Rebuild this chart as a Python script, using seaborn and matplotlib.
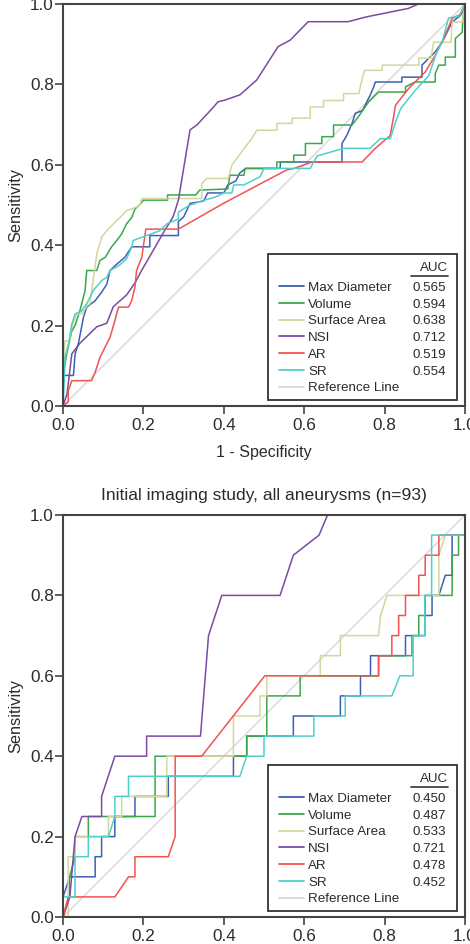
import matplotlib
matplotlib.use("Agg")
import matplotlib.pyplot as plt
from matplotlib.lines import Line2D
from matplotlib.patches import Rectangle
import seaborn as sns


sns.set_theme(style="white")
plt.rcParams["font.family"] = ["Liberation Sans", "DejaVu Sans"]

SERIES = ["Max Diameter", "Volume", "Surface Area", "NSI", "AR", "SR"]
COLORS = ["#3f60b2", "#3aa84a", "#d3d69e", "#7b4aa2", "#f25252", "#4dd0cc"]
REF_COLOR = "#d6d6d6"
TEXT_COLOR = "#2b2b2b"
DIAG = [0.0, 1.0]
TICKS = [0.0, 0.2, 0.4, 0.6, 0.8, 1.0]

# ---- first study (top panel) ----
TOP_AUC = ["0.565", "0.594", "0.638", "0.712", "0.519", "0.554"]

TOP_MAXD_X = [0, 0.0, 0.026, 0.03, 0.038, 0.051, 0.059, 0.08, 0.096, 0.109, 0.117, 0.134, 0.154,
              0.171, 0.216, 0.216, 0.287, 0.287, 0.30, 0.316, 0.35, 0.36, 0.40, 0.41, 0.43, 0.44,
              0.455, 0.54, 0.541, 0.694, 0.694, 0.706, 0.719, 0.727, 0.745, 0.764, 0.773, 0.777,
              0.843, 0.843, 0.893, 0.893, 0.926, 0.943, 0.968, 0.988, 1.0, 1.0]
TOP_MAXD_Y = [0, 0.076, 0.076, 0.129, 0.154, 0.221, 0.246, 0.262, 0.283, 0.303, 0.337, 0.353, 0.370,
              0.396, 0.396, 0.424, 0.424, 0.459, 0.47, 0.504, 0.51, 0.53, 0.53, 0.55, 0.56, 0.58,
              0.591, 0.591, 0.607, 0.607, 0.653, 0.673, 0.703, 0.728, 0.735, 0.773, 0.794, 0.806,
              0.806, 0.818, 0.818, 0.848, 0.881, 0.905, 0.955, 0.971, 0.99, 1.0]

TOP_VOL_X = [0, 0.0, 0.009, 0.022, 0.03, 0.042, 0.055, 0.059, 0.084, 0.092, 0.105, 0.121, 0.134,
             0.146, 0.158, 0.171, 0.179, 0.192, 0.20, 0.26, 0.26, 0.33, 0.34, 0.41, 0.415, 0.45,
             0.453, 0.532, 0.532, 0.574, 0.574, 0.603, 0.603, 0.644, 0.644, 0.673, 0.673, 0.719,
             0.735, 0.760, 0.785, 0.852, 0.852, 0.876, 0.926, 0.926, 0.935, 0.951, 0.951, 0.976,
             0.976, 0.993, 0.995, 1.0]
TOP_VOL_Y = [0, 0.072, 0.129, 0.187, 0.20, 0.237, 0.287, 0.337, 0.337, 0.362, 0.37, 0.396, 0.412,
             0.428, 0.453, 0.469, 0.49, 0.502, 0.512, 0.512, 0.525, 0.525, 0.537, 0.54, 0.574, 0.574,
             0.591, 0.591, 0.607, 0.607, 0.624, 0.624, 0.653, 0.653, 0.670, 0.670, 0.699, 0.699,
             0.72, 0.756, 0.781, 0.781, 0.794, 0.806, 0.806, 0.827, 0.848, 0.848, 0.868, 0.868,
             0.914, 0.930, 0.97, 1.0]

TOP_SA_X = [0, 0.0, 0.005, 0.017, 0.02, 0.034, 0.047, 0.06, 0.067, 0.075, 0.084, 0.096, 0.109,
            0.125, 0.142, 0.158, 0.183, 0.192, 0.196, 0.345, 0.345, 0.357, 0.411, 0.42, 0.444,
            0.469, 0.482, 0.532, 0.532, 0.570, 0.570, 0.615, 0.615, 0.648, 0.648, 0.698, 0.698,
            0.736, 0.745, 0.75, 0.794, 0.794, 0.885, 0.885, 0.915, 0.922, 0.965, 0.968, 0.993, 1.0]
TOP_SA_Y = [0, 0.09, 0.162, 0.162, 0.19, 0.229, 0.229, 0.25, 0.254, 0.312, 0.378, 0.42, 0.436,
            0.453, 0.469, 0.486, 0.495, 0.502, 0.516, 0.516, 0.553, 0.566, 0.566, 0.599, 0.632,
            0.665, 0.686, 0.686, 0.703, 0.703, 0.716, 0.716, 0.744, 0.744, 0.760, 0.760, 0.777,
            0.777, 0.818, 0.835, 0.835, 0.848, 0.848, 0.865, 0.865, 0.905, 0.905, 0.955, 0.955, 1.0]

TOP_NSI_X = [0, 0.01, 0.022, 0.042, 0.084, 0.109, 0.125, 0.158, 0.179, 0.196, 0.225, 0.249, 0.274,
             0.287, 0.316, 0.333, 0.361, 0.386, 0.403, 0.440, 0.482, 0.535, 0.565, 0.610, 0.709,
             0.755, 0.859, 0.884, 1.0]
TOP_NSI_Y = [0, 0.03, 0.13, 0.156, 0.197, 0.206, 0.247, 0.276, 0.306, 0.338, 0.388, 0.43, 0.471,
             0.512, 0.687, 0.699, 0.729, 0.757, 0.761, 0.774, 0.811, 0.894, 0.910, 0.956, 0.956,
             0.968, 0.989, 1.0, 1.0]

TOP_AR_X = [0, 0.013, 0.013, 0.022, 0.071, 0.08, 0.092, 0.117, 0.129, 0.138, 0.163, 0.171, 0.179,
            0.183, 0.196, 0.206, 0.287, 0.399, 0.556, 0.575, 0.62, 0.744, 0.777, 0.814, 0.823,
            0.827, 0.860, 0.901, 0.926, 0.947, 0.968, 0.99, 1.0]
TOP_AR_Y = [0, 0.01, 0.038, 0.063, 0.063, 0.084, 0.121, 0.171, 0.212, 0.246, 0.246, 0.262, 0.296,
            0.337, 0.370, 0.440, 0.440, 0.504, 0.587, 0.591, 0.607, 0.607, 0.641, 0.673, 0.723,
            0.748, 0.790, 0.831, 0.872, 0.914, 0.964, 0.975, 1.0]

TOP_SR_X = [0, 0.003, 0.005, 0.015, 0.022, 0.03, 0.045, 0.059, 0.075, 0.096, 0.109, 0.117, 0.14,
            0.158, 0.171, 0.175, 0.241, 0.258, 0.287, 0.287, 0.312, 0.345, 0.38, 0.40, 0.42, 0.425,
            0.45, 0.49, 0.50, 0.615, 0.632, 0.698, 0.764, 0.789, 0.814, 0.827, 0.840, 0.876, 0.910,
            0.930, 0.943, 0.959, 0.985, 1.0]
TOP_SR_Y = [0, 0.06, 0.121, 0.16, 0.204, 0.229, 0.235, 0.254, 0.287, 0.312, 0.320, 0.337, 0.35,
            0.366, 0.396, 0.412, 0.436, 0.453, 0.465, 0.482, 0.498, 0.51, 0.52, 0.53, 0.53, 0.55,
            0.55, 0.57, 0.591, 0.591, 0.622, 0.641, 0.641, 0.665, 0.665, 0.706, 0.740, 0.785, 0.822,
            0.881, 0.905, 0.965, 0.97, 1.0]

# ---- initial imaging study (bottom panel) ----
BOTTOM_TITLE = "Initial imaging study, all aneurysms (n=93)"
BOT_AUC = ["0.450", "0.487", "0.533", "0.721", "0.478", "0.452"]

BOT_MAXD_X = [0, 0.0, 0.017, 0.08, 0.08, 0.096, 0.096, 0.129, 0.129, 0.179, 0.179, 0.262, 0.262,
              0.424, 0.424, 0.457, 0.457, 0.573, 0.573, 0.69, 0.69, 0.74, 0.74, 0.765, 0.765, 0.852,
              0.852, 0.90, 0.90, 0.918, 0.918, 0.935, 0.951, 0.968, 0.968, 1.0, 1.0]
BOT_MAXD_Y = [0, 0.05, 0.10, 0.10, 0.15, 0.15, 0.20, 0.20, 0.25, 0.25, 0.30, 0.30, 0.35,
              0.35, 0.40, 0.40, 0.45, 0.45, 0.50, 0.50, 0.55, 0.55, 0.60, 0.60, 0.65, 0.65,
              0.70, 0.70, 0.75, 0.75, 0.80, 0.80, 0.85, 0.85, 0.95, 0.95, 1.0]

BOT_VOL_X = [0, 0.016, 0.016, 0.03, 0.03, 0.063, 0.063, 0.229, 0.229, 0.457, 0.457, 0.507, 0.507,
             0.59, 0.59, 0.785, 0.785, 0.868, 0.868, 0.885, 0.885, 0.901, 0.901, 0.968, 0.968,
             0.984, 0.984, 1.0, 1.0]
BOT_VOL_Y = [0, 0.05, 0.10, 0.15, 0.20, 0.20, 0.25, 0.25, 0.40, 0.40, 0.45, 0.45, 0.55,
             0.55, 0.60, 0.60, 0.65, 0.65, 0.70, 0.70, 0.75, 0.75, 0.80, 0.80, 0.90,
             0.90, 0.95, 0.95, 1.0]

BOT_SA_X = [0, 0.013, 0.013, 0.03, 0.03, 0.113, 0.113, 0.146, 0.146, 0.258, 0.258, 0.424, 0.424,
            0.49, 0.49, 0.507, 0.507, 0.64, 0.64, 0.69, 0.69, 0.785, 0.79, 0.806, 0.935, 0.935,
            0.951, 1.0, 1.0]
BOT_SA_Y = [0, 0.0, 0.15, 0.15, 0.20, 0.20, 0.25, 0.25, 0.30, 0.30, 0.40, 0.40, 0.50,
            0.50, 0.55, 0.55, 0.60, 0.60, 0.65, 0.65, 0.70, 0.70, 0.75, 0.80, 0.80, 0.90,
            0.95, 0.95, 1.0]

BOT_NSI_X = [0, 0.017, 0.03, 0.047, 0.096, 0.096, 0.129, 0.208, 0.208, 0.342, 0.362, 0.395, 0.54,
             0.573, 0.637, 0.658, 1.0]
BOT_NSI_Y = [0, 0.05, 0.20, 0.25, 0.25, 0.30, 0.40, 0.40, 0.45, 0.45, 0.70, 0.80, 0.80,
             0.90, 0.95, 1.0, 1.0]

BOT_AR_X = [0, 0.013, 0.129, 0.163, 0.179, 0.179, 0.262, 0.279, 0.279, 0.345, 0.502, 0.785, 0.785,
            0.818, 0.818, 0.835, 0.835, 0.852, 0.852, 0.885, 0.885, 0.901, 0.901, 0.935, 0.935,
            1.0, 1.0]
BOT_AR_Y = [0, 0.05, 0.05, 0.10, 0.10, 0.15, 0.15, 0.20, 0.40, 0.40, 0.60, 0.60, 0.65,
            0.65, 0.70, 0.70, 0.75, 0.75, 0.80, 0.80, 0.85, 0.85, 0.90, 0.90, 0.95,
            0.95, 1.0]

BOT_SR_X = [0, 0.0, 0.03, 0.03, 0.063, 0.063, 0.113, 0.129, 0.129, 0.163, 0.163, 0.44, 0.457, 0.50,
            0.50, 0.624, 0.624, 0.702, 0.702, 0.818, 0.838, 0.871, 0.871, 0.90, 0.90, 0.917,
            0.917, 1.0, 1.0]
BOT_SR_Y = [0, 0.05, 0.05, 0.15, 0.15, 0.20, 0.20, 0.25, 0.30, 0.30, 0.35, 0.35, 0.40, 0.40,
            0.45, 0.45, 0.50, 0.50, 0.55, 0.55, 0.60, 0.60, 0.70, 0.70, 0.80, 0.80,
            0.95, 0.95, 1.0]

TOP_CURVES = [(TOP_MAXD_X, TOP_MAXD_Y), (TOP_VOL_X, TOP_VOL_Y), (TOP_SA_X, TOP_SA_Y),
              (TOP_NSI_X, TOP_NSI_Y), (TOP_AR_X, TOP_AR_Y), (TOP_SR_X, TOP_SR_Y)]
BOT_CURVES = [(BOT_MAXD_X, BOT_MAXD_Y), (BOT_VOL_X, BOT_VOL_Y), (BOT_SA_X, BOT_SA_Y),
              (BOT_NSI_X, BOT_NSI_Y), (BOT_AR_X, BOT_AR_Y), (BOT_SR_X, BOT_SR_Y)]


def draw_panel(ax, curves):
    sns.lineplot(x=DIAG, y=DIAG, color=REF_COLOR, lw=1.0, ax=ax)
    for color, (fpr, tpr) in zip(COLORS, curves):
        sns.lineplot(x=fpr, y=tpr, sort=False, estimator=None, color=color, lw=1.1, ax=ax)

    ax.set_xlim(0, 1)
    ax.set_ylim(0, 1)
    ax.set_xticks(TICKS)
    ax.set_yticks(TICKS)
    ax.set_xticklabels([f"{t:.1f}" for t in TICKS])
    ax.set_yticklabels([f"{t:.1f}" for t in TICKS])
    ax.tick_params(direction="out", length=5.5, width=1.1, color="#333333",
                   labelsize=12.3, labelcolor=TEXT_COLOR, left=True, bottom=True)
    ax.tick_params(axis="y", pad=1)
    ax.tick_params(axis="x", pad=3)
    for sp in ax.spines.values():
        sp.set_color("#444444")
        sp.set_linewidth(1.5)
    ax.set_ylabel("Sensitivity", fontsize=11.8, color=TEXT_COLOR, labelpad=5)

    # legend box
    ax.add_patch(Rectangle((0.510, 0.016), 0.470, 0.361, transform=ax.transAxes,
                           facecolor="white", edgecolor="#333333", lw=1.3, zorder=5))
    handles = [Line2D([], [], color=c, lw=1.3) for c in COLORS]
    handles.append(Line2D([], [], color=REF_COLOR, lw=1.3))
    leg = ax.legend(handles, SERIES + ["Reference Line"], loc="upper left",
                    bbox_to_anchor=(0.538, 0.3095), frameon=False, borderpad=0,
                    borderaxespad=0, handlelength=1.85, handletextpad=0.3,
                    labelspacing=0.33, fontsize=9.6, labelcolor=TEXT_COLOR)
    leg.set_zorder(6)
    ax.text(0.957, 0.3425, "AUC", transform=ax.transAxes, ha="right", va="center",
            fontsize=9.6, color=TEXT_COLOR, zorder=7)
    ax.add_line(Line2D([0.865, 0.958], [0.3235, 0.3235], transform=ax.transAxes,
                       color="#333333", lw=1.2, zorder=7))
    return leg


fig = plt.figure(figsize=(4.7, 9.44), dpi=100)
ax_top = fig.add_axes([63 / 470, 1 - 406 / 944, 402 / 470, 402 / 944])
ax_bot = fig.add_axes([63 / 470, 1 - 917 / 944, 402 / 470, 402 / 944])

leg_top = draw_panel(ax_top, TOP_CURVES)
leg_bot = draw_panel(ax_bot, BOT_CURVES)

ax_top.set_xlabel("1 - Specificity", fontsize=11.5, color=TEXT_COLOR, labelpad=9)
ax_bot.set_xlabel("")
ax_bot.set_title(BOTTOM_TITLE, fontsize=12.6, color=TEXT_COLOR, pad=11)

# AUC values next to the legend rows
fig.canvas.draw()
for ax, leg, aucs in [(ax_top, leg_top, TOP_AUC), (ax_bot, leg_bot, BOT_AUC)]:
    inv = ax.transAxes.inverted()
    for txt, val in zip(leg.get_texts(), aucs):
        bb = txt.get_window_extent()
        y_ax = inv.transform((0, (bb.y0 + bb.y1) / 2))[1]
        ax.text(0.952, y_ax, val, transform=ax.transAxes, ha="right", va="center",
                fontsize=9.6, color=TEXT_COLOR, zorder=7)

fig.savefig("out.png", dpi=100)
